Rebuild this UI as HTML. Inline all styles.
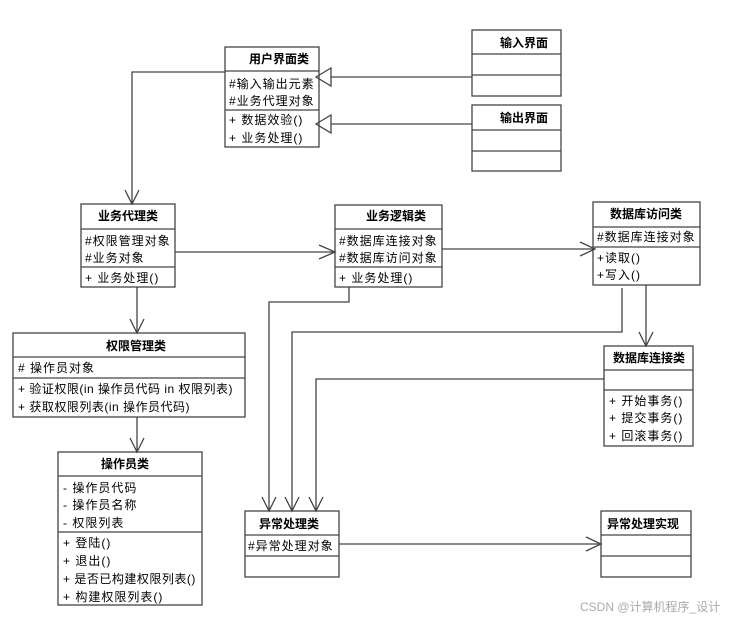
<!DOCTYPE html>
<html><head><meta charset="utf-8"><style>
body{margin:0;background:#fff}
svg text{font-family:"Liberation Sans","Noto Sans CJK SC",sans-serif;font-size:12px;fill:#000;letter-spacing:1px}
svg text.t{font-weight:bold;letter-spacing:0}
</style></head><body>
<svg width="740" height="619" xmlns="http://www.w3.org/2000/svg">
<g fill="none" stroke="#444" stroke-width="1.3">
<rect x="225" y="47" width="94" height="100"/><line x1="225" y1="71" x2="319" y2="71"/><line x1="225" y1="110" x2="319" y2="110"/>
<rect x="472" y="30" width="89" height="66"/><line x1="472" y1="54" x2="561" y2="54"/><line x1="472" y1="75" x2="561" y2="75"/>
<rect x="472" y="105" width="89" height="66"/><line x1="472" y1="130" x2="561" y2="130"/><line x1="472" y1="151" x2="561" y2="151"/>
<rect x="81" y="204" width="94" height="83"/><line x1="81" y1="229" x2="175" y2="229"/><line x1="81" y1="267" x2="175" y2="267"/>
<rect x="335" y="205" width="107" height="82"/><line x1="335" y1="229" x2="442" y2="229"/><line x1="335" y1="267" x2="442" y2="267"/>
<rect x="593" y="202" width="107" height="83"/><line x1="593" y1="227" x2="700" y2="227"/><line x1="593" y1="247" x2="700" y2="247"/>
<rect x="604" y="346" width="89" height="100"/><line x1="604" y1="370" x2="693" y2="370"/><line x1="604" y1="390" x2="693" y2="390"/>
<rect x="13" y="333" width="232" height="84"/><line x1="13" y1="357" x2="245" y2="357"/><line x1="13" y1="378" x2="245" y2="378"/>
<rect x="58" y="452" width="144" height="153"/><line x1="58" y1="476" x2="202" y2="476"/><line x1="58" y1="532" x2="202" y2="532"/>
<rect x="245" y="511" width="94" height="66"/><line x1="245" y1="535" x2="339" y2="535"/><line x1="245" y1="556" x2="339" y2="556"/>
<rect x="601" y="511" width="90" height="66"/><line x1="601" y1="535" x2="691" y2="535"/><line x1="601" y1="556" x2="691" y2="556"/>
<line x1="472" y1="77" x2="331" y2="77"/><polygon points="316,77 331,68 331,86"/>
<line x1="472" y1="124" x2="331" y2="124"/><polygon points="316,124 331,115 331,133"/>
<polyline points="225,72 132,72 132,204"/><polyline points="125,190 132,204 139,190"/>
<line x1="175" y1="252" x2="335" y2="252"/><polyline points="319,245 335,252 319,259"/>
<line x1="442" y1="249" x2="595" y2="249"/><polyline points="580,242 595,249 580,256"/>
<polyline points="137,287 137,333"/><polyline points="130,319 137,333 144,319"/>
<polyline points="137,417 137,452"/><polyline points="130,438 137,452 144,438"/>
<polyline points="349,287 349,302 269,302 269,511"/><polyline points="262,497 269,511 276,497"/>
<polyline points="622,288 622,332 292,332 292,511"/><polyline points="285,497 292,511 299,497"/>
<polyline points="604,379 316,379 316,511"/><polyline points="309,497 316,511 323,497"/>
<line x1="646" y1="285" x2="646" y2="346"/><polyline points="639,332 646,346 653,332"/>
<line x1="339" y1="544" x2="601" y2="544"/><polyline points="586,537 601,544 586,551"/>
</g>
<text class="t" x="249" y="63">用户界面类</text>
<text x="229" y="88">#输入输出元素</text><text x="229" y="105">#业务代理对象</text>
<text x="229" y="124">+ 数据效验()</text><text x="229" y="142">+ 业务处理()</text>
<text class="t" x="500" y="47">输入界面</text>
<text class="t" x="500" y="122">输出界面</text>
<text class="t" x="98" y="220">业务代理类</text>
<text x="85" y="245">#权限管理对象</text><text x="85" y="262">#业务对象</text><text x="85" y="282">+ 业务处理()</text>
<text class="t" x="366" y="220">业务逻辑类</text>
<text x="339" y="245">#数据库连接对象</text><text x="339" y="262">#数据库访问对象</text><text x="339" y="282">+ 业务处理()</text>
<text class="t" x="610" y="218">数据库访问类</text>
<text x="597" y="241">#数据库连接对象</text><text x="597" y="262">+读取()</text><text x="597" y="279">+写入()</text>
<text class="t" x="613" y="362">数据库连接类</text>
<text x="609" y="405">+ 开始事务()</text><text x="609" y="422">+ 提交事务()</text><text x="609" y="440">+ 回滚事务()</text>
<text class="t" x="106" y="350">权限管理类</text>
<text x="18" y="372"># 操作员对象</text>
<text x="18" y="393" style="letter-spacing:0.5px">+ 验证权限(in 操作员代码 in 权限列表)</text>
<text x="18" y="411" style="letter-spacing:0.5px">+ 获取权限列表(in 操作员代码)</text>
<text class="t" x="101" y="468">操作员类</text>
<text x="63" y="492">- 操作员代码</text><text x="63" y="509">- 操作员名称</text><text x="63" y="527">- 权限列表</text>
<text x="63" y="547">+ 登陆()</text><text x="63" y="565">+ 退出()</text><text x="63" y="583" style="letter-spacing:0.5px">+  是否已构建权限列表()</text><text x="63" y="601">+ 构建权限列表()</text>
<text class="t" x="259" y="528">异常处理类</text>
<text x="248" y="550">#异常处理对象</text>
<text class="t" x="607" y="528">异常处理实现</text>
<text x="580" y="611" style="fill:#aaa;font-size:12px;letter-spacing:0">CSDN @计算机程序_设计</text>
</svg>
</body></html>
